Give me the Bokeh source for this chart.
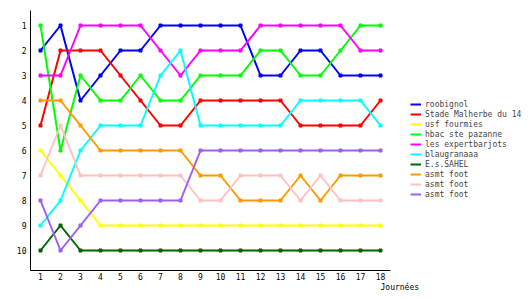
from bokeh.plotting import figure
from bokeh.models import Range1d, FixedTicker, Legend, LegendItem, Title
from bokeh.embed import file_html
from bokeh.resources import INLINE

journees = list(range(1, 19))
ranks_y = list(range(1, 11))

teams = ["roobignol", "Stade Malherbe du 14", "usf fourmies", "hbac ste pazanne",
         "les expertbarjots", "blaugranaaa", "E.s.SAHEL", "asmt foot", "asmt foot", "asmt foot"]
colors = ["#0000ff", "#ff0000", "#ffff00", "#00ff00", "#ff00ff", "#00ffff",
          "#006400", "#ff9900", "#ffc0c0", "#a05ef0"]

roobignol = [2, 1, 4, 3, 2, 2, 1, 1, 1, 1, 1, 3, 3, 2, 2, 3, 3, 3]
stade_malherbe = [5, 2, 2, 2, 3, 4, 5, 5, 4, 4, 4, 4, 4, 5, 5, 5, 5, 4]
usf_fourmies = [6, 7, 8, 9, 9, 9, 9, 9, 9, 9, 9, 9, 9, 9, 9, 9, 9, 9]
hbac = [1, 6, 3, 4, 4, 3, 4, 4, 3, 3, 3, 2, 2, 3, 3, 2, 1, 1]
expertbarjots = [3, 3, 1, 1, 1, 1, 2, 3, 2, 2, 2, 1, 1, 1, 1, 1, 2, 2]
blaugranaaa = [9, 8, 6, 5, 5, 5, 3, 2, 5, 5, 5, 5, 5, 4, 4, 4, 4, 5]
es_sahel = [10, 9, 10, 10, 10, 10, 10, 10, 10, 10, 10, 10, 10, 10, 10, 10, 10, 10]
asmt_orange = [4, 4, 5, 6, 6, 6, 6, 6, 7, 7, 8, 8, 8, 7, 8, 7, 7, 7]
asmt_pink = [7, 5, 7, 7, 7, 7, 7, 7, 8, 8, 7, 7, 7, 8, 7, 8, 8, 8]
asmt_purple = [8, 10, 9, 8, 8, 8, 8, 8, 6, 6, 6, 6, 6, 6, 6, 6, 6, 6]

series = [roobignol, stade_malherbe, usf_fourmies, hbac, expertbarjots,
          blaugranaaa, es_sahel, asmt_orange, asmt_pink, asmt_purple]

FONT = "DejaVu Sans Mono"

# frame spans the whole width right of the y axis; the axis line is bounded
p = figure(width=530, height=300, output_backend="svg", toolbar_location=None,
           x_range=Range1d(0.5, 25.5), y_range=Range1d(10.8, 0.4),
           min_border_left=30, min_border_right=0, min_border_top=10,
           min_border_bottom=30)
p.outline_line_color = None
p.xgrid.visible = False
p.ygrid.visible = False
p.background_fill_color = "white"

for ax, ticks in ((p.xaxis, journees), (p.yaxis, ranks_y)):
    ax.ticker = FixedTicker(ticks=ticks)
    ax.major_tick_line_color = None
    ax.minor_tick_line_color = None
    ax.major_tick_out = 0
    ax.major_tick_in = 0
    ax.axis_line_color = "black"
    ax.axis_line_width = 1
    ax.major_label_text_font = FONT
    ax.major_label_text_font_size = "8px"
    ax.major_label_text_color = "black"
p.xaxis.bounds = (0.5, 18.5)
p.xaxis.major_label_standoff = 2
p.yaxis.major_label_standoff = 4

items = []
for name, col, vals in zip(teams, colors, series):
    r = p.line(journees, vals, line_color=col, line_width=2)
    p.scatter(journees, vals, marker="square", size=3, color=col)
    items.append(LegendItem(label=name, renderers=[r]))

legend = Legend(items=items, location=(380, 71), glyph_width=11, glyph_height=10,
                label_height=10, label_standoff=4, spacing=0, padding=0, margin=0,
                label_text_font=FONT, label_text_font_size="8px",
                label_text_baseline="middle",
                border_line_color=None, background_fill_alpha=0)
p.add_layout(legend, "center")

p.add_layout(Title(text="Journées", align="left", offset=350, standoff=-4,
                   text_font=FONT, text_font_size="8px", text_font_style="normal",
                   text_color="black"), "below")

open("out.html", "w").write(file_html(p, INLINE))
